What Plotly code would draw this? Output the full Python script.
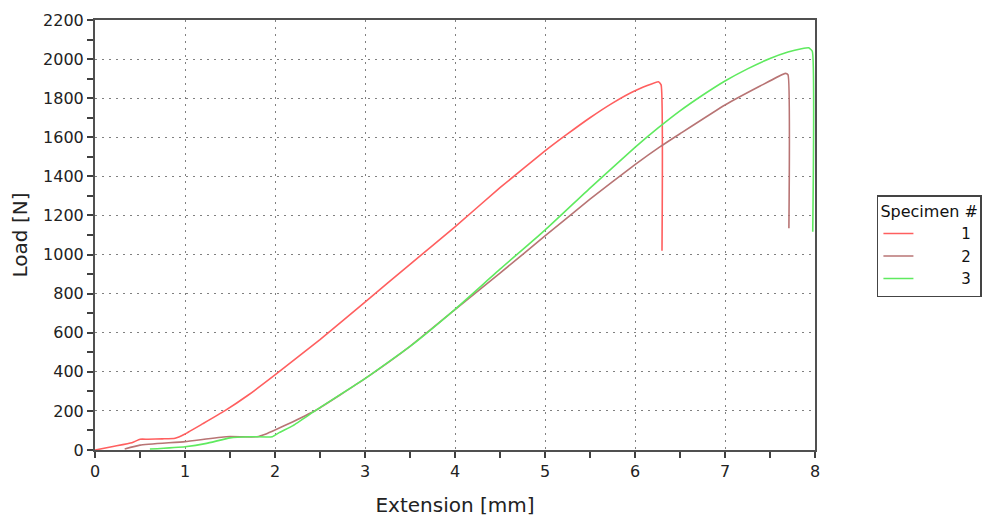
import plotly.graph_objects as go

# Specimen 1
x1 = [0, 0.2, 0.41, 0.5, 0.59, 0.75, 0.89, 1.0, 1.2, 1.44, 1.7, 2.0, 2.5, 3.0, 3.5, 4.0, 4.5,
      5.0, 5.25, 5.5, 5.75, 6.0, 6.26, 6.29, 6.3]
y1 = [0, 18, 37, 55, 55, 57, 60, 82, 135, 200, 280, 384, 565, 757, 950, 1142, 1342,
      1530, 1617, 1700, 1775, 1838, 1884, 1868, 1020]

# Specimen 2
x2 = [0.33, 0.5, 1.0, 1.46, 1.8, 1.9, 2.0, 2.2, 2.46, 3.0, 3.5, 4.0, 4.5, 5.0, 5.5, 6.0, 6.28,
      6.5, 7.0, 7.39, 7.67, 7.7, 7.71]
y2 = [5, 25, 43, 68, 68, 82, 102, 145, 205, 365, 530, 718, 905, 1095, 1283, 1460, 1552,
      1618, 1765, 1862, 1927, 1920, 1134]

# Specimen 3
x3 = [0.61, 1.0, 1.24, 1.5, 1.72, 1.97, 2.05, 2.2, 2.46, 3.0, 3.5, 4.0, 4.5, 5.0, 5.5, 6.0,
      6.25, 6.5, 6.75, 7.0, 7.25, 7.5, 7.7, 7.85, 7.93, 7.97, 7.975]
y3 = [5, 17, 34, 62, 68, 68, 90, 125, 205, 365, 530, 720, 925, 1125, 1340, 1548,
      1645, 1735, 1815, 1888, 1950, 2003, 2036, 2053, 2058, 2040, 1117]

names = ["1", "2", "3"]
colors = ["#ff5f5f", "#b87474", "#5fea5f"]

fig = go.Figure()
for xs, ys, nm, c in zip([x1, x2, x3], [y1, y2, y3], names, colors):
    fig.add_trace(go.Scatter(x=xs, y=ys, mode="lines", name="\u00a0" * 9 + nm,
                             line=dict(color=c, width=1.6, shape="spline", smoothing=0.4)))

axis_common = dict(
    showline=True, linecolor="#505050", linewidth=2, mirror=True,
    showgrid=True, gridcolor="#808080", gridwidth=1.2, griddash="2px,5px",
    ticks="outside", ticklen=6, tickwidth=1.5, tickcolor="#404040",
    zeroline=False, automargin=False,
    tickfont=dict(family="DejaVu Sans", size=16, color="#222"),
)

fig.update_xaxes(range=[0, 8], dtick=1, tick0=0,
                 minor=dict(dtick=0.5, ticks="outside", ticklen=6, tickcolor="#404040",
                            tickwidth=1.5, showgrid=False),
                 title=dict(text="Extension [mm]", font=dict(family="DejaVu Sans", size=20, color="#222"),
                            standoff=18),
                 **axis_common)
fig.update_yaxes(range=[0, 2200], dtick=200, tick0=0,
                 minor=dict(dtick=100, ticks="outside", ticklen=6, tickcolor="#404040",
                            tickwidth=1.5, showgrid=False),
                 title=dict(text="Load [N]", font=dict(family="DejaVu Sans", size=20, color="#222"),
                            standoff=10),
                 **axis_common)

fig.update_layout(
    width=984, height=518,
    margin=dict(l=95, r=169, t=20, b=68, autoexpand=False),
    paper_bgcolor="white", plot_bgcolor="white",
    legend=dict(
        x=1.086, y=0.593, xanchor="left", yanchor="top",
        title=dict(text="Specimen #", font=dict(family="DejaVu Sans", size=16, color="#111")),
        font=dict(family="DejaVu Sans", size=15, color="#111"),
        bordercolor="#444", borderwidth=1.5, bgcolor="white",
        tracegroupgap=0, itemwidth=30,
    ),
    showlegend=True,
)

fig.write_html("out.html", config={"displayModeBar": False},
               post_script="document.body.style.margin='0';document.body.style.overflow='hidden';")
